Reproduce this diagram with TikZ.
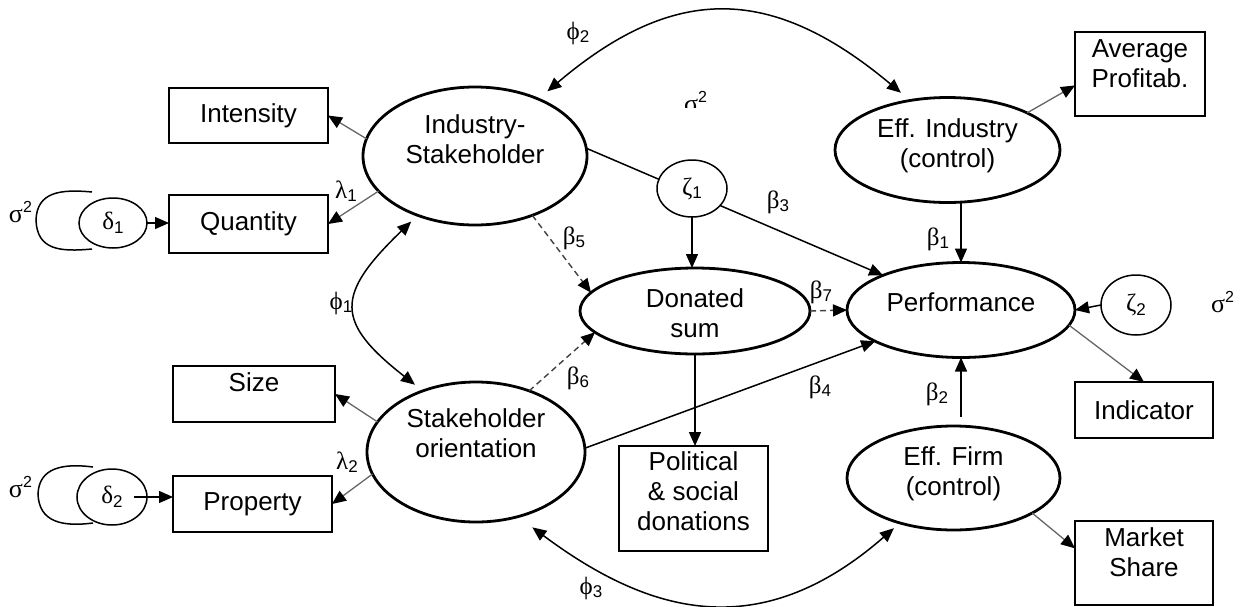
\documentclass[tikz,border=0pt]{standalone}
\usepackage{fontspec}
\setmainfont{Liberation Sans}
\newfontfamily\grk{Liberation Serif}
\usetikzlibrary{arrows.meta,shapes.geometric}
\newcommand\gsub[2]{{\grk #1}\raisebox{-3.5pt}{\fontsize{17}{17}\selectfont #2}}
\newcommand\sigsq{{\fontsize{26}{28}\selectfont\grk σ}\raisebox{10pt}{\fontsize{16}{16}\selectfont 2}}
\begin{document}
\begin{tikzpicture}[x=1pt,y=-1pt,
  every node/.style={font=\fontsize{26}{30}\selectfont, inner sep=0pt, outer sep=0pt},
  lat/.style={ellipse, draw, line width=2.8pt, fill=white},
  obs/.style={rectangle, draw, line width=1.8pt},
  err/.style={ellipse, draw, line width=1.5pt, fill=white},
  txt/.style={align=center},
  glab/.style={font=\fontsize{25}{27}\selectfont},
  arr/.style={line width=1.5pt, -{Triangle[length=14pt,width=12pt]}},
  load/.style={line width=1.3pt, draw=black!60, -{Triangle[length=14pt,width=12pt,color=black]}},
  dsh/.style={line width=1.4pt, draw=black!75, dash pattern=on 6pt off 4pt, -{Triangle[length=14pt,width=12pt,color=black]}},
  cov/.style={line width=1.5pt, {Triangle[length=14pt,width=12pt]}-{Triangle[length=14pt,width=12pt]}},
]
\useasboundingbox (0,0) rectangle (1243,606);

% observed indicators
\node[obs, minimum width=159pt, minimum height=55pt] (intens) at (248.5,115.5) {Intensity};
\node[obs, minimum width=159pt, minimum height=58pt] (quant) at (248.5,224) {Quantity};
\node[obs, minimum width=162pt, minimum height=56pt] (size) at (254,394) {};
\node[txt] (sizeT) at (254,382.5) {Size};
\node[obs, minimum width=159pt, minimum height=56pt] (prop) at (252.5,504) {Property};
\node[obs, minimum width=130pt, minimum height=84pt] (avg) at (1140,74) {};
\node[txt] (avgT) at (1140,63.5) {Average\\Profitab.};
\node[obs, minimum width=138pt, minimum height=56pt] (indic) at (1144,410) {Indicator};
\node[obs, minimum width=138pt, minimum height=84pt] (mkt) at (1144,563) {};
\node[txt] (mktT) at (1144,552.5) {Market\\Share};
\node[obs, minimum width=149pt, minimum height=105pt] (pol) at (693.5,498.5) {};
\node[txt] (polT) at (693.5,491.5) {Political\\\& social\\donations};

% latent variables
\node[lat, minimum width=224pt, minimum height=138pt] (ind) at (475,156) {};
\node[txt] (indT) at (475,139) {Industry-\\Stakeholder};
\node[lat, minimum width=218pt, minimum height=140pt] (so) at (476,452) {};
\node[txt] (soT) at (476,433.5) {Stakeholder\\orientation};
\node[lat, minimum width=230pt, minimum height=86pt] (don) at (695,311) {};
\node[txt] (donT) at (695,313.5) {Donated\\sum};
\node[lat, minimum width=228pt, minimum height=95pt] (perf) at (961,310) {};
\node[txt] (perfT) at (961,302.5) {Performance};
\node[lat, minimum width=225pt, minimum height=105pt] (effi) at (947.5,150) {};
\node[txt] (effiT) at (947.5,146) {Eff. Industry\\(control)};
\node[lat, minimum width=213pt, minimum height=104pt] (effm) at (953.5,478) {};
\node[txt] (effmT) at (953.5,474) {Eff. Firm\\(control)};

% error terms
\node[err, glab, minimum width=70pt, minimum height=60pt] (z2) at (1136,305) {\gsub{ζ}{2}};
\node[err, glab, minimum width=68pt, minimum height=50pt] (d1) at (113,223) {\gsub{δ}{1}};
\node[err, glab, minimum width=70pt, minimum height=56pt] (d2) at (112,497) {\gsub{δ}{2}};

% variance loops
\coordinate (l1a) at (92,192);
\coordinate (l1b) at (92,249);
\coordinate (l2a) at (93,467);
\coordinate (l2b) at (93,523);
\draw[line width=1.5pt] (l1a) .. controls (60,189) and (37,192) .. (36,220) .. controls (37,250) and (60,252) .. (l1b);
\draw[line width=1.5pt] (l2a) .. controls (62,463) and (39,468) .. (38,494) .. controls (39,522) and (62,527) .. (l2b);

% labels
\node[glab, anchor=base west] (sg1) at (9,222) {\sigsq};
\node[glab, anchor=base west] (sg2) at (9,497) {\sigsq};
\node[glab, anchor=base west] (sg3) at (1211,312) {\sigsq};
\begin{scope}
\clip (670,80) rectangle (720,107);
\node[glab, anchor=base west] (sg4) at (684,112) {\sigsq};
\end{scope}
\node[glab] (phi2) at (578,33) {\gsub{ϕ}{2}};
\node[glab] (beta3) at (778,202) {\gsub{β}{3}};
\node[glab] (beta5) at (574,238) {\gsub{β}{5}};
\node[glab] (lam1) at (346,191) {\gsub{λ}{1}};
\node[glab] (phi1) at (341,303) {\gsub{ϕ}{1}};
\node[glab] (beta6) at (578,378) {\gsub{β}{6}};
\node[glab] (beta4) at (820,387) {\gsub{β}{4}};
\node[glab] (phi3) at (591,588) {\gsub{ϕ}{3}};
\node[glab] (lam2) at (347,462) {\gsub{λ}{2}};
\node[glab] (beta7) at (821,292) {\gsub{β}{7}};
\node[glab] (beta1) at (938,239) {\gsub{β}{1}};
\node[glab] (beta2) at (937,394) {\gsub{β}{2}};

% loadings
\draw[load] (ind.171) -- (intens.east);
\draw[load] (ind.200) -- (quant.east);
\draw[load] (so.163) -- (size.east);
\draw[load] (so.192) -- (prop.east);
\draw[load] (perf.352) -- (indic.north);
\draw[load] (effi.25) -- (avg.190);
\draw[load] (effm.336) -- (mkt.168);
\draw[arr, line width=1.3pt] (d1.east) -- (d1.east -| quant.west);
\draw[arr, line width=1.3pt, shorten <=22pt] (d2.center) -- (d2.center -| prop.west);

% covariances
\draw[cov, shorten <=9pt, shorten >=10pt] (ind.226) .. controls (335,295) and (335,322) .. (so.131);
\draw[cov, shorten <=12pt, shorten >=12pt] (ind.42) .. controls (675,-17) and (772,-15) .. (effi.127);
\draw[cov, shorten <=18pt, shorten >=8pt] (so.303) .. controls (650,615) and (760,645) .. (effm.220);

% structural paths
\draw[dsh] (ind.314) -- (don.170);
\draw[dsh] (so.49) -- (don.192);
\draw[dsh] (don.east) -- (perf.west);
\draw[arr] (ind.4) -- (perf.156);
\node[err, glab, minimum width=70pt, minimum height=57pt] (z1) at (692,188.5) {\gsub{ζ}{1}};
\draw[arr] (z1.south) -- (z1.south |- don.north);
\draw[arr] (so.2) -- (perf.200);
\draw[arr] (don.south) -- (don.south |- pol.north);
\draw[arr] (perf.north |- effi.south) -- (perf.north);
\draw[arr, shorten <=9pt] (perf.south |- effm.north) -- (perf.south);
\draw[arr] (z2.west) -- (perf.east);
\end{tikzpicture}
\end{document}
